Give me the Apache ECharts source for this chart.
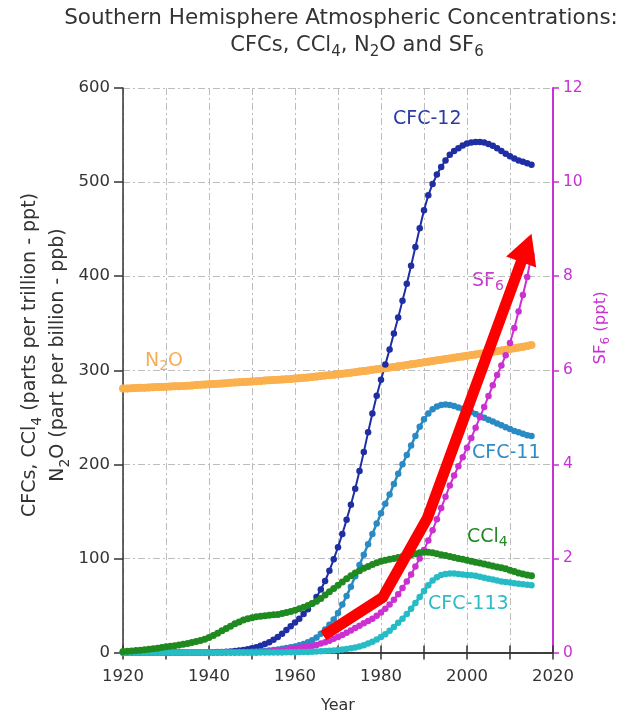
<!DOCTYPE html>
<html><head><meta charset="utf-8">
<script src="https://cdn.jsdelivr.net/npm/echarts@6/dist/echarts.min.js"></script>
<style>html,body{margin:0;padding:0;background:#fff}#c{width:636px;height:714px}</style>
</head><body><div id="c"></div>
<script>
// ---------- data ----------
const years = [];
for (let y = 1920; y <= 2015; y++) years.push(y);

const cfc12 = [
  0,0,0,0,0,0,0,0,0,0,
  0,0,0,0,0,0,0,0,0,0.1,
  0.2,0.3,0.4,0.6,0.8,1.1,1.5,2.0,2.7,3.5,
  4.5,5.7,7.2,9.0,11,13.5,16.5,20,24,28,
  32,36,41,46,52,59,67,76,87,99,
  112,126,141,157,174,193,213,234,254,273,
  290,306,322,339,356,374,392,411,431,451,
  470,486,498,508,516,523,529,533,536,539,
  541,542,542.5,542.5,542,540.5,538.5,536,533,530,
  527.5,525,523,521.5,520,518.5
];
const cfc11 = [
  0,0,0,0,0,0,0,0,0,0,
  0,0,0,0,0,0,0,0,0,0,
  0,0,0.1,0.1,0.2,0.2,0.3,0.4,0.5,0.6,
  0.8,1,1.3,1.7,2.2,2.7,3.3,4,4.8,5.6,
  6.5,7.7,9,11,13,16,20,24.5,29.5,35,
  42,51,60,70,81,93,104,115,126,137,
  148,158,168,179,190,200,210,220,230,240,
  248,254,258.5,261.5,263,263.5,263,262,260.5,259,
  257.5,255.5,253.5,251.5,249.5,247.5,245.5,243.5,241.5,239.5,
  237.5,235.5,234,232.5,231,230
];
const ccl4 = [
  1,1.3,1.6,2,2.4,2.9,3.4,4,4.6,5.3,
  6,6.6,7.3,8,8.8,9.6,10.5,11.6,12.8,14.2,
  16,18,20.5,23,25.5,28,30.5,32.5,34.5,36,
  37,38,38.5,39,39.5,40,40.5,41.5,42.5,43.5,
  45,46.5,48,50,52,54.5,57.5,61,64.5,68,
  71.5,75,78.5,81.5,84.5,87,89.5,91.5,93.5,95.5,
  97,98,99,100,101,102,103,104,105,106,
  106.5,106.5,106,105,104,103,102,101,100,99,
  98,97,96,95,94,93,92,91,90,89,
  87.5,86,84.5,83.5,82.5,81.5
];
const cfc113 = [
  0,0,0,0,0,0,0,0,0,0,
  0,0,0,0,0,0,0,0,0,0,
  0,0,0,0,0,0,0,0,0,0,
  0,0,0,0,0,0.1,0.1,0.1,0.2,0.2,
  0.3,0.4,0.5,0.6,0.8,1,1.2,1.5,1.8,2.2,
  2.6,3.1,3.7,4.4,5.3,6.4,7.8,9.5,11.5,13.8,
  16.5,19.5,23,27,31.5,36,41,46.5,52.5,59,
  65.5,71.5,76.5,80,82.5,83.5,84,84,83.5,83,
  82.5,82,81.5,80.5,79.5,78.5,77.5,76.5,75.5,75,
  74.5,73.5,73,72.5,72,71.5
];
const n2o = [
  280.5,280.7,280.9,281.1,281.3,281.5,281.7,281.9,282.1,282.3,
  282.5,282.7,282.9,283.1,283.3,283.6,283.9,284.2,284.5,284.8,
  285.1,285.4,285.7,286,286.3,286.6,286.9,287.2,287.5,287.8,
  288.1,288.4,288.7,289,289.3,289.6,289.9,290.2,290.5,290.8,
  291.2,291.6,292,292.4,292.8,293.3,293.8,294.3,294.8,295.3,
  295.8,296.3,296.8,297.4,298,298.6,299.2,299.8,300.4,301,
  301.6,302.2,302.8,303.5,304.2,304.9,305.6,306.3,307,307.7,
  308.4,309.1,309.8,310.5,311.2,311.9,312.6,313.3,314,314.7,
  315.4,316.1,316.8,317.5,318.2,318.9,319.6,320.3,321,321.8,
  322.6,323.4,324.2,325,325.8,326.8
];
// SF6 in ppt (right axis)
const sf6 = [
  0,0,0,0,0,0,0,0,0,0,
  0,0,0,0,0,0,0,0,0,0,
  0,0,0,0,0,0,0,0,0,0,
  0,0,0.01,0.01,0.02,0.03,0.04,0.05,0.06,0.08,
  0.09,0.1,0.11,0.12,0.14,0.16,0.19,0.22,0.25,0.29,
  0.33,0.37,0.42,0.47,0.52,0.57,0.62,0.67,0.72,0.78,
  0.85,0.93,1.02,1.12,1.24,1.37,1.51,1.66,1.83,2.0,
  2.18,2.38,2.6,2.83,3.07,3.31,3.55,3.76,3.96,4.15,
  4.35,4.56,4.78,5.0,5.22,5.45,5.68,5.9,6.1,6.32,
  6.58,6.9,7.25,7.6,7.98,8.45
];
// red annotation arrow (year, SF6 ppt)
const arrowYears = [1966.6, 1980.4, 1990.8, 2015.0];
const arrowSF6 = [0.36, 1.17, 2.86, 8.9];

const xMin = 1920, xMax = 2020, xStep = 10;
const yMin = 0, yMax = 600, yStep = 100;
const y2Min = 0, y2Max = 12, y2Step = 2;

// ---------- chart ----------
const FF = '"DejaVu Sans", Verdana, sans-serif';
const pairs = arr => years.map((y, i) => [y, arr[i]]);
const C = {
  cfc12: '#1f2fa3', cfc11: '#2a8bc4', ccl4: '#1f8a1f',
  cfc113: '#25bcc6', sf6: '#cc30d0', n2o: '#fbb04e', axis2: '#c832d4'
};
function lineSeries(name, arr, color, opts) {
  return Object.assign({
    name, type: 'line', data: pairs(arr),
    symbol: 'circle', symbolSize: 6.5, showSymbol: true,
    lineStyle: { color, width: 2 },
    itemStyle: { color, borderWidth: 0 },
    emphasis: { disabled: true }, silent: true
  }, opts || {});
}
const chart = echarts.init(document.getElementById('c'), null, { renderer: 'canvas' });
const grid = { left: 123, right: 83, top: 88, bottom: 61.5, containLabel: false, outerBoundsMode: 'none' };
const axisBlack = { color: '#333', width: 1.5 };
const gridLine = { show: true, lineStyle: { color: '#bdbdbd', width: 1, type: [7, 3, 2, 3] } };

const richSub = (size, sub, lh) => ({
  n: { fontSize: size, fontFamily: FF, lineHeight: lh },
  s: { fontSize: sub, fontFamily: FF, lineHeight: Math.round(sub * 0.9), verticalAlign: 'bottom' }
});

chart.setOption({
  animation: false,
  backgroundColor: '#fff',
  textStyle: { fontFamily: FF },
  grid,
  xAxis: [{
    type: 'value', min: xMin, max: xMax, interval: xStep, position: 'bottom',
    name: 'Year', nameLocation: 'middle', nameGap: 45,
    nameTextStyle: { fontSize: 16, color: '#333', fontFamily: FF },
    axisLine: { show: true, lineStyle: axisBlack },
    axisTick: { show: true, length: 7, lineStyle: axisBlack },
    axisLabel: { fontSize: 16.5, color: '#333', margin: 16, fontFamily: FF,
      formatter: v => (v % 20 === 0 ? String(v) : '') },
    splitLine: gridLine
  }, {
    type: 'value', min: xMin, max: xMax, interval: xStep, position: 'top',
    axisLine: { show: true, lineStyle: axisBlack },
    axisTick: { show: true, length: 7, lineStyle: axisBlack },
    axisLabel: { show: false }, splitLine: { show: false }
  }],
  yAxis: [{
    type: 'value', min: yMin, max: yMax, interval: yStep, position: 'left',
    axisLine: { show: true, lineStyle: axisBlack },
    axisTick: { show: true, length: 9, lineStyle: axisBlack },
    axisLabel: { fontSize: 16.5, color: '#333', margin: 13, fontFamily: FF },
    splitLine: gridLine
  }, {
    type: 'value', min: y2Min, max: y2Max, interval: y2Step, position: 'right',
    axisLine: { show: true, lineStyle: { color: C.axis2, width: 2 } },
    axisTick: { show: true, length: 6, lineStyle: { color: C.axis2, width: 1.5 } },
    axisLabel: { fontSize: 15.5, color: C.axis2, margin: 10, fontFamily: FF },
    splitLine: { show: false }
  }],
  series: [
    lineSeries('N2O', n2o, C.n2o, { lineStyle: { color: C.n2o, width: 7.5 }, symbolSize: 8 }),
    lineSeries('CFC-12', cfc12, C.cfc12),
    lineSeries('CFC-11', cfc11, C.cfc11, { lineStyle: { color: C.cfc11, width: 2.5 } }),
    lineSeries('SF6', sf6, C.sf6, { yAxisIndex: 1 }),
    lineSeries('CFC-113', cfc113, C.cfc113, { lineStyle: { color: C.cfc113, width: 3 }, symbolSize: 6.5 }),
    lineSeries('CCl4', ccl4, C.ccl4, { lineStyle: { color: C.ccl4, width: 3 }, symbolSize: 7 }),
    {
      type: 'custom', yAxisIndex: 1, z: 10, silent: true,
      data: [[arrowYears[0], arrowSF6[0]]],
      renderItem: (params, api) => {
        const pts = arrowYears.map((x, i) => api.coord([x, arrowSF6[i]]));
        const tip = pts[pts.length - 1], prev = pts[pts.length - 2];
        const dx = tip[0] - prev[0], dy = tip[1] - prev[1], L = Math.hypot(dx, dy);
        const ux = dx / L, uy = dy / L;
        const headLen = 30, headHalf = 16;
        const base = [tip[0] - ux * headLen, tip[1] - uy * headLen];
        const shaft = pts.slice(0, -1).concat([[base[0] + ux * 3, base[1] + uy * 3]]);
        return { type: 'group', children: [
          { type: 'polyline', shape: { points: shaft },
            style: { stroke: '#ff0000', lineWidth: 11, fill: null, lineJoin: 'miter', lineCap: 'butt' } },
          { type: 'polygon', shape: { points: [tip,
              [base[0] - uy * headHalf, base[1] + ux * headHalf],
              [base[0] + uy * headHalf, base[1] - ux * headHalf]] },
            style: { fill: '#ff0000' } }
        ] };
      }
    }
  ],
  graphic: [
    { type: 'text', x: 341, y: 18, style: { text: 'Southern Hemisphere Atmospheric Concentrations:',
      fontSize: 21.5, fontFamily: FF, fill: '#333', align: 'center', verticalAlign: 'middle' } },
    { type: 'text', x: 357, y: 46, style: { text: '{n|CFCs, CCl}{s|4}{n|, N}{s|2}{n|O and SF}{s|6}',
      rich: richSub(21, 15, 28), fill: '#333', align: 'center', verticalAlign: 'middle' } },
    { type: 'text', x: 44, y: 355, rotation: Math.PI / 2, style: {
      text: '{n|CFCs, CCl}{s|4}{n| (parts per trillion - ppt)}\n{n|N}{s|2}{n|O (part per billion - ppb)}',
      rich: richSub(19, 14, 28), fill: '#333', align: 'center', verticalAlign: 'middle' } },
    { type: 'text', x: 601, y: 328, rotation: Math.PI / 2, style: {
      text: '{n|SF}{s|6}{n| (ppt)}', rich: richSub(16.5, 12, 22), fill: C.axis2, align: 'center', verticalAlign: 'middle' } },
    { type: 'text', x: 393, y: 119, style: { text: 'CFC-12', fontSize: 19, fontFamily: FF, fill: '#2a3aa6', align: 'left', verticalAlign: 'middle' } },
    { type: 'text', x: 472, y: 281, style: { text: '{n|SF}{s|6}', rich: richSub(19, 14, 24), fill: '#c93ccf', align: 'left', verticalAlign: 'middle' } },
    { type: 'text', x: 145, y: 361, style: { text: '{n|N}{s|2}{n|O}', rich: richSub(19, 14, 24), fill: '#f7ad55', align: 'left', verticalAlign: 'middle' } },
    { type: 'text', x: 472, y: 453, style: { text: 'CFC-11', fontSize: 19, fontFamily: FF, fill: '#2f8cc6', align: 'left', verticalAlign: 'middle' } },
    { type: 'text', x: 467, y: 537, style: { text: '{n|CCl}{s|4}', rich: richSub(19, 14, 24), fill: '#248a24', align: 'left', verticalAlign: 'middle' } },
    { type: 'text', x: 428, y: 604, style: { text: 'CFC-113', fontSize: 19, fontFamily: FF, fill: '#2dbcc6', align: 'left', verticalAlign: 'middle' } }
  ]
});
</script>
</body></html>
